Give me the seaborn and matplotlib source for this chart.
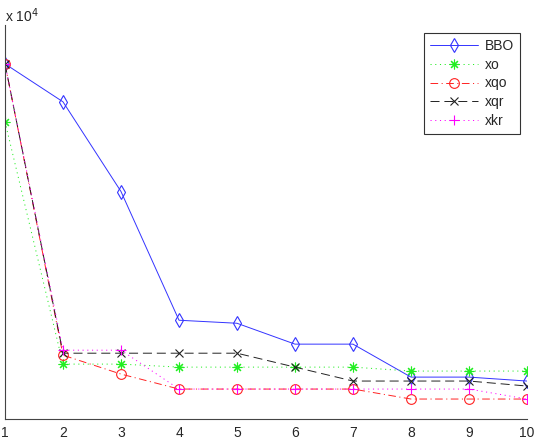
import numpy as np
import pandas as pd
import matplotlib
matplotlib.use("Agg")
import matplotlib.pyplot as plt
import seaborn as sns

# iterations on the x axis
iterations = [1, 2, 3, 4, 5, 6, 7, 8, 9, 10]

# cost values per method (units of 1)
bbo = [27040, 24150, 17320, 7520, 7290, 5700, 5700, 3190, 3190, 2890]
xo = [22630, 4180, 4180, 3950, 3950, 3950, 3950, 3650, 3650, 3650]
xqo = [27040, 4860, 3420, 2280, 2280, 2280, 2280, 1520, 1520, 1520]
xqr = [27040, 5010, 5010, 5010, 5010, 3950, 2890, 2890, 2890, 2510]
xkr = [27040, 5240, 5240, 2280, 2280, 2280, 2280, 2280, 2280, 1520]

series_names = ["BBO", "xo", "xqo", "xqr", "xkr"]

df = pd.DataFrame({"iter": iterations, "BBO": bbo, "xo": xo,
                   "xqo": xqo, "xqr": xqr, "xkr": xkr})
long_df = df.melt(id_vars="iter", var_name="method", value_name="cost")

sns.set_style("white")
plt.rcParams["font.family"] = ["Liberation Sans", "DejaVu Sans"]
plt.rcParams["xtick.direction"] = "in"
plt.rcParams["ytick.direction"] = "in"
plt.rcParams["lines.scale_dashes"] = False

fig = plt.figure(figsize=(5.34, 4.41), dpi=100)
ax = fig.add_axes([5 / 534, 22 / 441, 522 / 534, 394 / 441])

# matlab-like line specs
styles = {
    "BBO": dict(color="#3333ff", ls="-", marker="d", ms=7),
    "xo": dict(color="#22ee22", ls=(0, (0.8, 2.6)), marker=(8, 2, 0), ms=7),
    "xqo": dict(color="#ff2222", ls=(0, (5.5, 2.5, 0.8, 2.5)), marker="o", ms=7),
    "xqr": dict(color="#222222", ls=(0, (6.5, 3.5)), marker="x", ms=5.5),
    "xkr": dict(color="#ff00ff", ls=(0, (0.8, 2.6)), marker="+", ms=7),
}

for name in series_names:
    st = styles[name]
    sub = long_df[long_df["method"] == name]
    sns.lineplot(data=sub, x="iter", y="cost", ax=ax, label=name,
                 color=st["color"], linestyle=st["ls"], linewidth=0.7,
                 marker=st["marker"], markersize=st["ms"],
                 markerfacecolor="none", markeredgecolor=st["color"],
                 markeredgewidth=0.8)

ax.set_xlim(1, 10)
ax.set_ylim(0, 30000)
ax.set_xticks(iterations)
ax.set_yticks(np.arange(0, 30001, 5000))
ax.set_yticklabels([])
ax.set_xlabel("")
ax.set_ylabel("")
ax.tick_params(axis="both", length=4, width=0.8, color="#444444",
               labelsize=10, pad=5)

for side in ["top", "right"]:
    ax.spines[side].set_visible(False)
for side in ["left", "bottom"]:
    ax.spines[side].set_color("#444444")
    ax.spines[side].set_linewidth(0.8)

fig.text(5 / 534, 1 - 16 / 441, r"x 10$^4$", fontsize=10, va="center", ha="left")

leg = ax.legend(loc="upper right", bbox_to_anchor=(515 / 522, 1 - 8 / 394),
                borderaxespad=0, frameon=True, fancybox=False,
                edgecolor="black", fontsize=10, handlelength=3.4,
                borderpad=0.45, labelspacing=0.33, handletextpad=0.5)
leg.get_frame().set_linewidth(0.8)

fig.savefig("out.png", dpi=100)
